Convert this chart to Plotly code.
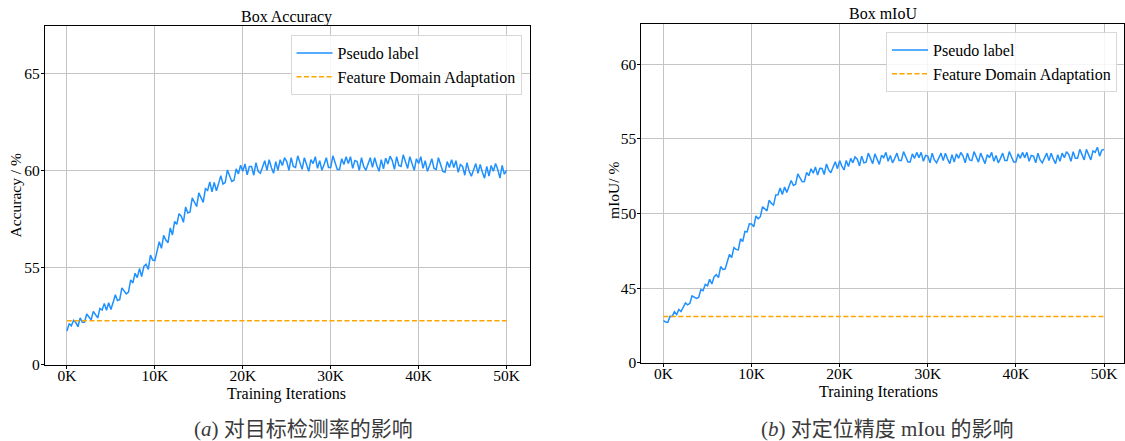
import plotly.graph_objects as go

# ---------------- data ----------------
iterations = list(range(0, 50001, 250))  # training iterations (x)

acc_pseudo = [
    51.74, 52.12, 52.00, 52.29, 52.18, 51.96, 52.41, 52.19, 52.19, 52.61, 52.46, 52.31,
    52.75, 52.54, 52.41, 52.90, 52.82, 53.16, 52.81, 53.19, 52.85, 53.20, 53.60, 53.31,
    53.35, 53.96, 53.80, 53.65, 53.74, 54.37, 54.21, 54.71, 54.48, 54.95, 54.54, 55.06,
    55.17, 54.91, 55.64, 55.39, 55.36, 55.82, 56.33, 55.99, 56.66, 56.42, 56.28, 57.04,
    56.68, 57.38, 57.22, 57.77, 57.64, 57.33, 58.12, 57.81, 57.86, 58.59, 58.36, 58.14,
    58.84, 58.55, 58.35, 59.06, 58.97, 59.41, 58.89, 59.38, 58.95, 59.32, 59.73, 59.30,
    59.37, 60.02, 59.73, 59.43, 59.49, 60.08, 59.82, 60.26, 59.95, 60.33, 59.77, 60.20,
    60.20, 59.75, 60.40, 59.95, 59.85, 60.15, 60.50, 60.00, 60.55, 60.15, 59.85, 60.45,
    60.00, 60.55, 60.25, 60.65, 60.45, 60.00, 60.65, 60.20, 60.15, 60.75, 60.40, 60.05,
    60.65, 60.25, 59.95, 60.55, 60.35, 60.70, 60.10, 60.50, 60.00, 60.30, 60.65, 60.15,
    60.15, 60.75, 60.40, 60.05, 60.05, 60.60, 60.30, 60.70, 60.35, 60.70, 60.10, 60.50,
    60.45, 60.00, 60.65, 60.20, 60.00, 60.30, 60.65, 60.15, 60.65, 60.25, 59.95, 60.55,
    60.08, 60.63, 60.33, 60.73, 60.50, 60.05, 60.70, 60.25, 60.20, 60.80, 60.45, 60.10,
    60.70, 60.30, 60.00, 60.60, 60.35, 60.70, 60.10, 60.50, 59.95, 60.25, 60.60, 60.10,
    60.05, 60.65, 60.30, 59.95, 59.90, 60.45, 60.15, 60.55, 60.15, 60.50, 59.90, 60.30,
    60.20, 59.75, 60.40, 59.95, 59.70, 60.00, 60.35, 59.85, 60.30, 59.90, 59.60, 60.20,
    59.70, 60.25, 59.95, 60.35, 60.05, 59.60, 60.25, 59.80, 60.00,
]

miou_pseudo = [
    42.83, 42.74, 42.71, 43.12, 43.11, 43.42, 43.23, 43.57, 43.43, 43.71, 44.01, 43.89,
    43.99, 44.48, 44.39, 44.31, 44.38, 44.91, 44.83, 45.26, 45.16, 45.60, 45.28, 45.76,
    45.91, 45.71, 46.45, 46.25, 46.28, 46.75, 47.27, 47.05, 47.72, 47.60, 47.57, 48.31,
    48.12, 48.80, 48.77, 49.32, 49.31, 49.11, 49.85, 49.65, 49.79, 50.46, 50.32, 50.18,
    50.90, 50.68, 50.57, 51.25, 51.26, 51.71, 51.28, 51.78, 51.42, 51.80, 52.22, 51.88,
    51.97, 52.66, 52.39, 52.13, 52.15, 52.76, 52.54, 53.00, 52.71, 53.12, 52.58, 53.04,
    53.02, 52.62, 53.33, 52.93, 52.74, 53.08, 53.47, 53.01, 53.55, 53.18, 52.92, 53.56,
    53.15, 53.70, 53.40, 53.80, 53.65, 53.20, 53.85, 53.40, 53.45, 54.05, 53.70, 53.35,
    54.00, 53.60, 53.30, 53.90, 53.75, 54.10, 53.50, 53.90, 53.40, 53.70, 54.05, 53.55,
    53.55, 54.15, 53.80, 53.45, 53.45, 54.00, 53.70, 54.10, 53.75, 54.10, 53.50, 53.90,
    53.85, 53.40, 54.05, 53.60, 53.40, 53.70, 54.05, 53.55, 54.05, 53.65, 53.35, 53.95,
    53.45, 54.00, 53.70, 54.10, 53.85, 53.40, 54.05, 53.60, 53.55, 54.15, 53.80, 53.45,
    54.05, 53.65, 53.35, 53.95, 53.75, 54.10, 53.50, 53.90, 53.40, 53.70, 54.05, 53.55,
    53.55, 54.15, 53.80, 53.45, 53.45, 54.00, 53.70, 54.10, 53.75, 54.10, 53.50, 53.90,
    53.85, 53.40, 54.05, 53.60, 53.40, 53.70, 54.05, 53.55, 54.05, 53.65, 53.35, 53.95,
    53.50, 54.05, 53.75, 54.15, 53.95, 53.50, 54.15, 53.70, 53.70, 54.30, 53.95, 53.60,
    54.30, 53.90, 53.60, 54.20, 54.10, 54.45, 53.85, 54.25, 54.30,
]

fda_x = [0, 50000]
acc_fda = [52.27, 52.27]
miou_fda = [43.1, 43.1]

x_tickvals = [0, 10000, 20000, 30000, 40000, 50000]
x_ticktext = ["0K", "10K", "20K", "30K", "40K", "50K"]
acc_tickvals = [50, 55, 60, 65]
acc_ticktext = ["0", "55", "60", "65"]
miou_tickvals = [40, 45, 50, 55, 60]
miou_ticktext = ["0", "45", "50", "55", "60"]

# ---------------- style ----------------
W = 1125
H_REF = 441      # reference picture height (coordinates below are in it)
H = 450          # figure height (the capture squeezes it to 441)
SERIF = "Liberation Serif, Times New Roman, serif"
CJK = "Liberation Serif, Noto Sans CJK SC, serif"
BLUE = "#1e90ff"
ORANGE = "#ffa500"
GRID = "#c4c4c4"


def px_x(p):
    return p / W


def px_y(p):
    return 1 - p / H_REF


fig = go.Figure()

fig.add_trace(go.Scatter(x=iterations, y=acc_pseudo, mode="lines", name="Pseudo label",
                         line=dict(color=BLUE, width=1.5), xaxis="x", yaxis="y", legend="legend"))
fig.add_trace(go.Scatter(x=fda_x, y=acc_fda, mode="lines", name="Feature Domain Adaptation",
                         line=dict(color=ORANGE, width=1.5, dash="5px,2.5px"), xaxis="x", yaxis="y",
                         legend="legend"))
fig.add_trace(go.Scatter(x=iterations, y=miou_pseudo, mode="lines", name="Pseudo label",
                         line=dict(color=BLUE, width=1.5), xaxis="x2", yaxis="y2", legend="legend2"))
fig.add_trace(go.Scatter(x=fda_x, y=miou_fda, mode="lines", name="Feature Domain Adaptation",
                         line=dict(color=ORANGE, width=1.5, dash="5px,2.5px"), xaxis="x2", yaxis="y2",
                         legend="legend2"))

axis_common = dict(showgrid=True, gridcolor=GRID, gridwidth=1, showline=True, linecolor="black",
                   linewidth=1, mirror=True, ticks="outside", ticklen=3, tickcolor="black",
                   zeroline=False, tickfont=dict(family=SERIF, size=15.5, color="black"))
x_common = dict(ticklabelstandoff=-6, **axis_common)
y_common = dict(ticklabelstandoff=-2, **axis_common)

k_left = 440 / 50000  # px per iteration
left_range = [-(67 - 45) / k_left, (530 - 67) / k_left]
k_right = 441 / 50000
right_range = [-(664 - 642) / k_right, (1125 - 664) / k_right]

legend_common = dict(xanchor="right", yanchor="top", bgcolor="rgba(255,255,255,0.85)",
                     bordercolor="#d8d8d8", borderwidth=1,
                     font=dict(family=SERIF, size=16, color="black"), tracegroupgap=0,
                     itemwidth=36)

fig.update_layout(
    width=W, height=H, autosize=False,
    margin=dict(l=0, r=0, t=0, b=0),
    paper_bgcolor="white", plot_bgcolor="white",
    showlegend=True,
    hovermode=False,
    xaxis=dict(domain=[px_x(45), px_x(530)], range=left_range, tickvals=x_tickvals,
               ticktext=x_ticktext, anchor="y", **x_common),
    yaxis=dict(domain=[px_y(364), px_y(26)], range=[50, 67.42], tickvals=acc_tickvals,
               ticktext=acc_ticktext, anchor="x", **y_common),
    xaxis2=dict(domain=[px_x(642), 1.0], range=right_range, tickvals=x_tickvals,
                ticktext=x_ticktext, anchor="y2", **x_common),
    yaxis2=dict(domain=[px_y(362), px_y(24)], range=[40, 62.7], tickvals=miou_tickvals,
                ticktext=miou_ticktext, anchor="x2", **y_common),
    legend=dict(x=px_x(522), y=px_y(35), **legend_common),
    legend2=dict(x=px_x(1118), y=px_y(32), **legend_common),
)


def label(text, x, y, size, angle=0, family=SERIF, color="black"):
    return dict(text=text, x=px_x(x), y=px_y(y), xref="paper", yref="paper",
                xanchor="center", yanchor="middle", textangle=angle, showarrow=False,
                font=dict(family=family, size=size, color=color))


ann = [
    label("Box Accuracy", 287, 17, 16),
    label("Box mIoU", 884, 13, 16),
    label("Training Iterations", 287, 393, 16),
    label("Training Iterations", 879, 391, 16),
    label("Accuracy / %", 15, 195, 15.5, angle=-90),
    label("mIoU/ %", 614, 190, 15.5, angle=-90),
    label("(<i>a</i>) 对目标检测率的影响", 304, 428, 21, family=CJK, color="#3a3a3a"),
    label("(<i>b</i>) 对定位精度 mIou 的影响", 888, 428, 21, family=CJK, color="#3a3a3a"),
]
fig.update_layout(annotations=ann)

fig.write_html(
    "out.html",
    config={"responsive": False, "displayModeBar": False},
    post_script="document.body.style.margin='0';document.body.style.overflow='hidden';",
)
